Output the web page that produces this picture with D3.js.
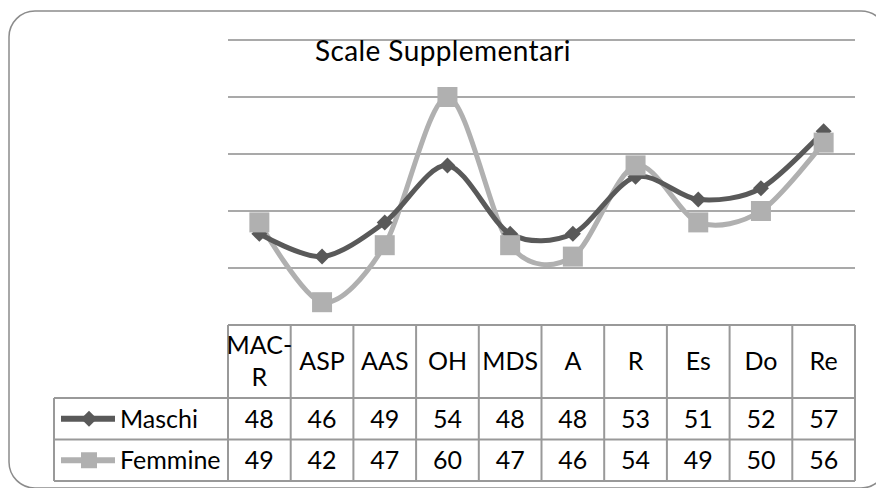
<!DOCTYPE html>
<html>
<head>
<meta charset="utf-8">
<script src="https://cdn.jsdelivr.net/npm/d3@7"></script>
<style>
  body { margin: 0; background: #fff; }
  svg { display: block; font-family: Lato, "Open Sans", sans-serif; }
</style>
</head>
<body>
<svg id="canvas" width="876" height="488"></svg>
<script>
// chart data
const categories = ["MAC-R", "ASP", "AAS", "OH", "MDS", "A", "R", "Es", "Do", "Re"];
const maschi = [48, 46, 49, 54, 48, 48, 53, 51, 52, 57];
const femmine = [49, 42, 47, 60, 47, 46, 54, 49, 50, 56];
const seriesNames = ["Maschi", "Femmine"];
const gridTicks = [45, 50, 55, 60, 65];

const darkGrey = "#595959";
const lightGrey = "#b0b0b0";
const lineGrey = "#8c8c8c";

let canvas = d3.select("#canvas");

// outer frame with rounded corners
canvas.append("rect")
  .attr("x", 9).attr("y", 11)
  .attr("width", 878).attr("height", 477)
  .attr("rx", 26).attr("ry", 26)
  .attr("fill", "none")
  .attr("stroke", lineGrey)
  .attr("stroke-width", 1.5);

let x = d3.scaleBand().domain(categories).range([228, 855]);
let y = d3.scaleLinear().domain([40, 65]).range([325, 40]);

// horizontal gridlines
canvas.selectAll(".grid")
  .data(gridTicks)
  .enter()
  .append("line")
  .attr("class", "grid")
  .attr("x1", 228).attr("x2", 855)
  .attr("y1", (d) => y(d)).attr("y2", (d) => y(d))
  .attr("stroke", lineGrey)
  .attr("stroke-width", 1.5);

// title
canvas.append("text")
  .attr("x", 315).attr("y", 61)
  .attr("font-size", 28)
  .attr("letter-spacing", 0.4)
  .attr("fill", "#000")
  .text("Scale Supplementari");

// lines
let line = d3.line()
  .x((d, i) => x(categories[i]) + x.bandwidth() / 2)
  .y((d) => y(d))
  .curve(d3.curveCardinal.tension(0.1));

const series = [
  { name: seriesNames[0], values: maschi, color: darkGrey, marker: "diamond" },
  { name: seriesNames[1], values: femmine, color: lightGrey, marker: "square" }
];

function markerPath(type) {
  if (type === "diamond") return "M0,-8L8,0L0,8L-8,0Z";
  return "M-10,-10H10V10H-10Z";
}

// draw Femmine line under Maschi line, then markers
series.slice().reverse().forEach((s) => {
  canvas.append("path")
    .datum(s.values)
    .attr("d", line)
    .attr("fill", "none")
    .attr("stroke", s.color)
    .attr("stroke-width", 5)
    .attr("stroke-linejoin", "round");
});
series.forEach((s) => {
  canvas.selectAll(".m-" + s.marker)
    .data(s.values)
    .enter()
    .append("path")
    .attr("class", "m-" + s.marker)
    .attr("transform", (d, i) => "translate(" + (x(categories[i]) + x.bandwidth() / 2) + "," + y(d) + ")")
    .attr("d", markerPath(s.marker))
    .attr("fill", s.color);
});

// data table
const tableTop = 325, headerBottom = 398, rowH = 41.5, legendLeft = 54;
const tableGrey = "#999";
let table = canvas.append("g");

// horizontal borders
table.append("line").attr("x1", 228).attr("x2", 855).attr("y1", tableTop).attr("y2", tableTop)
  .attr("stroke", tableGrey).attr("stroke-width", 2);
[0, 1, 2].forEach((r) => {
  let yy = headerBottom + r * rowH;
  table.append("line").attr("x1", legendLeft).attr("x2", 855).attr("y1", yy).attr("y2", yy)
    .attr("stroke", tableGrey).attr("stroke-width", 2);
});
// vertical borders
table.append("line").attr("x1", legendLeft).attr("x2", legendLeft)
  .attr("y1", headerBottom).attr("y2", headerBottom + 2 * rowH)
  .attr("stroke", tableGrey).attr("stroke-width", 2);
table.selectAll(".vb")
  .data(categories.concat(["end"]))
  .enter()
  .append("line")
  .attr("class", "vb")
  .attr("x1", (d, i) => 228 + i * x.bandwidth())
  .attr("x2", (d, i) => 228 + i * x.bandwidth())
  .attr("y1", tableTop).attr("y2", headerBottom + 2 * rowH)
  .attr("stroke", tableGrey).attr("stroke-width", 2);

// header labels
table.selectAll(".hdr")
  .data(categories)
  .enter()
  .append("text")
  .attr("class", "hdr")
  .attr("text-anchor", "middle")
  .attr("font-size", 25)
  .each(function (d) {
    let cx = x(d) + x.bandwidth() / 2;
    let el = d3.select(this);
    if (d === "MAC-R") {
      el.append("tspan").attr("x", cx).attr("y", 354).text("MAC-");
      el.append("tspan").attr("x", cx).attr("y", 386).text("R");
    } else {
      el.append("tspan").attr("x", cx).attr("y", 370).text(d);
    }
  });

// value rows
series.forEach((s, r) => {
  let rowMid = headerBottom + r * rowH + rowH / 2;
  table.selectAll(".v" + r)
    .data(s.values)
    .enter()
    .append("text")
    .attr("class", "v" + r)
    .attr("x", (d, i) => x(categories[i]) + x.bandwidth() / 2)
    .attr("y", rowMid + 9)
    .attr("text-anchor", "middle")
    .attr("font-size", 25)
    .text((d) => d);

  // legend key
  table.append("line")
    .attr("x1", 61).attr("x2", 115)
    .attr("y1", rowMid).attr("y2", rowMid)
    .attr("stroke", s.color).attr("stroke-width", 6);
  table.append("path")
    .attr("transform", "translate(89," + rowMid + ")")
    .attr("d", s.marker === "diamond" ? "M0,-8L8,0L0,8L-8,0Z" : "M-8,-8H8V8H-8Z")
    .attr("fill", s.color);
  table.append("text")
    .attr("x", 120).attr("y", rowMid + 9)
    .attr("font-size", 25)
    .text(s.name);
});
</script>
</body>
</html>
